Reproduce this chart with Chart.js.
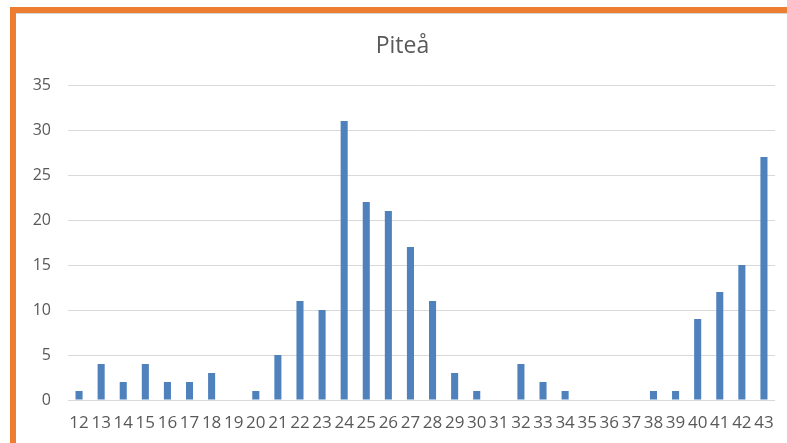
<!DOCTYPE html>
<html lang="sv">
<head>
    <meta charset="UTF-8">
    <title>Piteå</title>
    <script src="https://cdn.jsdelivr.net/npm/chart.js"></script>
    <style>
        html, body { margin: 0; padding: 0; background: #ffffff; }
        body { width: 787px; height: 443px; position: relative; overflow: hidden; }
        /* orange frame, top and left only */
        .frame-top { position: absolute; left: 10px; top: 7px; width: 777px; height: 6px; background: #ed7d31; }
        .frame-shadow { position: absolute; left: 16px; top: 13px; width: 771px; height: 1px; background: #d6d6d6; }
        .frame-left { position: absolute; left: 10px; top: 7px; width: 6px; height: 436px; background: #ed7d31; }
        .chart-box { position: absolute; left: 16px; top: 13px; width: 771px; height: 430px; }
    </style>
</head>
<body>
    <div class="frame-top"></div>
    <div class="frame-left"></div>
    <div class="frame-shadow"></div>
    <div class="chart-box">
        <canvas id="chart"></canvas>
    </div>

    <script>
        // data
        const categories = ['12','13','14','15','16','17','18','19','20','21','22','23','24','25','26','27',
                            '28','29','30','31','32','33','34','35','36','37','38','39','40','41','42','43'];
        const values = [1, 4, 2, 4, 2, 2, 3, 0, 1, 5, 11, 10, 31, 22, 21, 17,
                        11, 3, 1, 0, 4, 2, 1, 0, 0, 0, 1, 1, 9, 12, 15, 27];
        const yTicks = [0, 5, 10, 15, 20, 25, 30, 35];

        const textColor = '#595959';
        const tickFont = { family: 'Open Sans', size: 17 };

        new Chart(document.getElementById('chart'), {
            type: 'bar',
            data: {
                labels: categories,
                datasets: [{
                    label: 'Piteå',
                    data: values,
                    backgroundColor: '#4f81bd',
                    borderWidth: 0,
                    categoryPercentage: 0.8,
                    barPercentage: 0.4
                }]
            },
            options: {
                responsive: true,
                maintainAspectRatio: false,
                animation: false,
                layout: { padding: { left: 14, right: 12, top: 0, bottom: 0 } },
                plugins: {
                    legend: { display: false },
                    tooltip: { enabled: false },
                    title: {
                        display: true,
                        text: 'Piteå',
                        color: textColor,
                        font: { family: 'Open Sans', size: 23, weight: 'normal' },
                        padding: { top: 20, bottom: 24.4 }
                    }
                },
                scales: {
                    x: {
                        grid: { display: false, drawTicks: false },
                        border: { display: false },
                        ticks: {
                            color: textColor,
                            font: tickFont,
                            autoSkip: false,
                            maxRotation: 0,
                            minRotation: 0,
                            padding: 13
                        },
                        afterFit: s => { s.height = 43; }
                    },
                    y: {
                        min: 0,
                        max: yTicks[yTicks.length - 1],
                        afterBuildTicks: s => { s.ticks = yTicks.map(v => ({ value: v })); },
                        grid: { color: '#d9d9d9', lineWidth: 1, drawTicks: false },
                        border: { display: false },
                        ticks: {
                            color: textColor,
                            font: { family: 'Open Sans', size: 16 },
                            padding: 17
                        },
                        afterFit: s => { s.width = 38; }
                    }
                }
            }
        });
    </script>
</body>
</html>
